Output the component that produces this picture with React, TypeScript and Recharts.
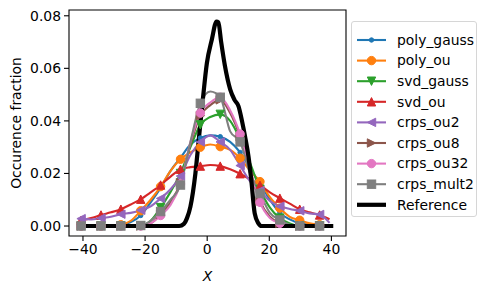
import React from "react";
import { LineChart, Line, XAxis, YAxis, ReferenceArea } from "recharts";

// sample positions (markers drawn on every second one)
const xs = [-40.6, -37.4, -34.2, -31.0, -27.8, -24.6, -21.4, -18.2, -15.0, -11.8, -8.6, -5.4, -2.2, 1.0, 4.2, 7.4, 10.6, 13.8, 17.0, 20.2, 23.4, 26.6, 29.8, 33.0, 36.2, 39.4];

const polyGauss = [0, 0, 0, 0, 0.0003, 0.0015, 0.004, 0.009, 0.0145, 0.021, 0.026, 0.031, 0.0335, 0.0345, 0.034, 0.032, 0.028, 0.022, 0.016, 0.01, 0.005, 0.0025, 0.001, 0.0005, 0, 0];
const polyOu = [0, 0, 0, 0, 0.0005, 0.002, 0.0058, 0.01, 0.015, 0.021, 0.0254, 0.028, 0.03, 0.031, 0.0302, 0.029, 0.0258, 0.021, 0.0169, 0.011, 0.0068, 0.0035, 0.0022, 0.001, 0.0005, 0];
const svdGauss = [0, 0, 0, 0, 0, 0, 0, 0.002, 0.007, 0.013, 0.02, 0.03, 0.0385, 0.0415, 0.0425, 0.04, 0.033, 0.024, 0.014, 0.007, 0.003, 0.001, 0, 0, 0, 0];
const svdOu = [0.0022, 0.003, 0.0042, 0.0052, 0.0064, 0.0082, 0.0102, 0.0128, 0.0156, 0.0188, 0.0216, 0.0224, 0.0228, 0.0232, 0.0228, 0.0216, 0.0199, 0.0178, 0.0155, 0.0128, 0.0106, 0.0085, 0.0064, 0.0052, 0.0042, 0.0026];
const crpsOu2 = [0.0028, 0.0025, 0.003, 0.0035, 0.0045, 0.005, 0.006, 0.0075, 0.0105, 0.014, 0.019, 0.027, 0.032, 0.0345, 0.032, 0.029, 0.023, 0.017, 0.0135, 0.0095, 0.0075, 0.0065, 0.0058, 0.0048, 0.0044, 0.0012];
const crpsOu8 = [0, 0, 0, 0, 0, 0, 0, 0.001, 0.0045, 0.009, 0.0165, 0.031, 0.042, 0.046, 0.048, 0.043, 0.034, 0.021, 0.0095, 0.0035, 0.001, 0, 0, 0, 0, 0];
const crpsOu32 = [0, 0, 0, 0, 0, 0, 0, 0.001, 0.004, 0.008, 0.016, 0.032, 0.043, 0.047, 0.049, 0.044, 0.035, 0.022, 0.009, 0.003, 0.001, 0, 0, 0, 0, 0];
const crpsMult2 = [0, 0, 0, 0, 0, 0, 0.0002, 0.002, 0.0055, 0.01, 0.0156, 0.032, 0.0467, 0.0512, 0.049, 0.036, 0.032, 0.02, 0.0124, 0.005, 0.0023, 0.0005, 0, 0, 0, 0];

const refX = [-40.8, -9, -7.5, -6.5, -5.4, -3.8, -2.7, -1.5, -0.1, 1.5, 3.0, 3.6, 4.5, 5.7, 7.4, 8.8, 10.1, 11.2, 12.2, 13.3, 14.2, 15.3, 16.5, 17.5, 40.6];
const refY = [0, 0, 0.0008, 0.003, 0.0074, 0.02, 0.033, 0.047, 0.062, 0.071, 0.0778, 0.0775, 0.07, 0.061, 0.052, 0.048, 0.0455, 0.04, 0.034, 0.0264, 0.0175, 0.0048, 0.001, 0, 0];

const xTicks = [-40, -20, 0, 20, 40];
const yTicks = [0, 0.02, 0.04, 0.06, 0.08];

type Shape = "point" | "circle" | "down" | "up" | "left" | "right" | "square";

const seriesList: { key: string; name: string; color: string; shape: Shape; values: number[] }[] = [
  { key: "polyGauss", name: "poly_gauss", color: "#1f77b4", shape: "point", values: polyGauss },
  { key: "polyOu", name: "poly_ou", color: "#ff7f0e", shape: "circle", values: polyOu },
  { key: "svdGauss", name: "svd_gauss", color: "#2ca02c", shape: "down", values: svdGauss },
  { key: "svdOu", name: "svd_ou", color: "#d62728", shape: "up", values: svdOu },
  { key: "crpsOu2", name: "crps_ou2", color: "#9467bd", shape: "left", values: crpsOu2 },
  { key: "crpsOu8", name: "crps_ou8", color: "#8c564b", shape: "right", values: crpsOu8 },
  { key: "crpsOu32", name: "crps_ou32", color: "#e377c2", shape: "circle", values: crpsOu32 },
  { key: "crpsMult2", name: "crps_mult2", color: "#7f7f7f", shape: "square", values: crpsMult2 },
];

const rows = xs.map((x, i) => {
  const r: Record<string, number> = { x };
  seriesList.forEach((s) => (r[s.key] = s.values[i]));
  return r;
});
const refRows = refX.map((x, i) => ({ x, y: refY[i] }));

const FONT = "'DejaVu Sans', sans-serif";
const FS = 13.9;
const MS = 4.2; // half marker size

function Marker({ shape, cx, cy, color }: { shape: Shape; cx: number; cy: number; color: string }) {
  const h = MS;
  const common = { fill: color, stroke: color, strokeWidth: 1 };
  switch (shape) {
    case "point":
      return <circle cx={cx} cy={cy} r={2.2} {...common} />;
    case "circle":
      return <circle cx={cx} cy={cy} r={h} {...common} />;
    case "square":
      return <rect x={cx - h} y={cy - h} width={2 * h} height={2 * h} {...common} />;
    case "up":
      return <polygon points={`${cx},${cy - h} ${cx - h},${cy + h} ${cx + h},${cy + h}`} {...common} />;
    case "down":
      return <polygon points={`${cx},${cy + h} ${cx - h},${cy - h} ${cx + h},${cy - h}`} {...common} />;
    case "left":
      return <polygon points={`${cx - h},${cy} ${cx + h},${cy - h} ${cx + h},${cy + h}`} {...common} />;
    default:
      return <polygon points={`${cx + h},${cy} ${cx - h},${cy - h} ${cx - h},${cy + h}`} {...common} />;
  }
}

function ChartLegend() {
  const step = 20.6;
  return (
    <div
      style={{
        position: "absolute",
        left: 351,
        top: 21,
        width: 126,
        height: 196,
        border: "1px solid #d6d6d6",
        borderRadius: 3,
        background: "rgba(255,255,255,0.8)",
        boxSizing: "border-box",
      }}
    >
      <svg width={126} height={196} style={{ position: "absolute", left: -1, top: -1 }}>
        {seriesList.map((s, i) => {
          const cy = 19 + i * step;
          return (
            <g key={s.key}>
              <line x1={6} x2={35} y1={cy} y2={cy} stroke={s.color} strokeWidth={2.1} />
              <Marker shape={s.shape} cx={20.5} cy={cy} color={s.color} />
              <text x={46} y={cy + 4.8} fontSize={FS} fontFamily={FONT} fill="#000">
                {s.name}
              </text>
            </g>
          );
        })}
        <line x1={6} x2={35} y1={19 + 8 * step} y2={19 + 8 * step} stroke="#000" strokeWidth={4.2} />
        <text x={46} y={19 + 8 * step + 4.8} fontSize={FS} fontFamily={FONT} fill="#000">
          Reference
        </text>
      </svg>
    </div>
  );
}

const fmtX = (v: number) => (v < 0 ? `\u2212${Math.abs(v)}` : `${v}`);

export default function App() {
  return (
    <div style={{ position: "absolute", left: 0, top: 0, width: 489, height: 288, background: "#fff", fontFamily: FONT }}>
      <LineChart width={489} height={288} data={rows} margin={{ top: 10, right: 143, bottom: 0, left: 0 }}>
        <XAxis
          dataKey="x"
          type="number"
          domain={[-44.5, 44.7]}
          allowDataOverflow
          ticks={xTicks}
          tickFormatter={fmtX}
          height={52}
          axisLine={false}
          tickLine={{ stroke: "#000", strokeWidth: 1.1 }}
          tickSize={5}
          tickMargin={3}
          tick={{ fontSize: FS, fill: "#000", fontFamily: FONT }}
          label={{ value: "X", position: "insideBottom", offset: 7, style: { fontStyle: "italic", fontSize: FS, fill: "#000", fontFamily: FONT } }}
        />
        <YAxis
          type="number"
          domain={[-0.0038, 0.0822]}
          allowDataOverflow
          ticks={yTicks}
          tickFormatter={(v: number) => v.toFixed(2)}
          width={69}
          axisLine={false}
          tickLine={{ stroke: "#000", strokeWidth: 1.1 }}
          tickSize={5}
          tickMargin={3}
          tick={{ fontSize: FS, fill: "#000", fontFamily: FONT }}
          label={{
            value: "Occurence fraction",
            angle: -90,
            position: "insideLeft",
            offset: 16,
            style: { textAnchor: "middle", fontSize: FS, fill: "#000", fontFamily: FONT },
          }}
        />
        <ReferenceArea x1={-44.5} x2={44.7} y1={-0.0038} y2={0.0822} fill="none" stroke="#000" strokeWidth={1.1} ifOverflow="visible" />
        {seriesList.map((s) => (
          <Line
            key={s.key}
            dataKey={s.key}
            type="monotone"
            stroke={s.color}
            strokeWidth={2.1}
            isAnimationActive={false}
            activeDot={false}
            dot={(p: any) =>
              p.index % 2 === 0 ? (
                <Marker key={`${s.key}-${p.index}`} shape={s.shape} cx={p.cx} cy={p.cy} color={s.color} />
              ) : (
                <g key={`${s.key}-${p.index}`} />
              )
            }
          />
        ))}
        <Line data={refRows} dataKey="y" type="monotone" stroke="#000" strokeWidth={4.2} dot={false} activeDot={false} isAnimationActive={false} />
      </LineChart>
      <ChartLegend />
    </div>
  );
}
